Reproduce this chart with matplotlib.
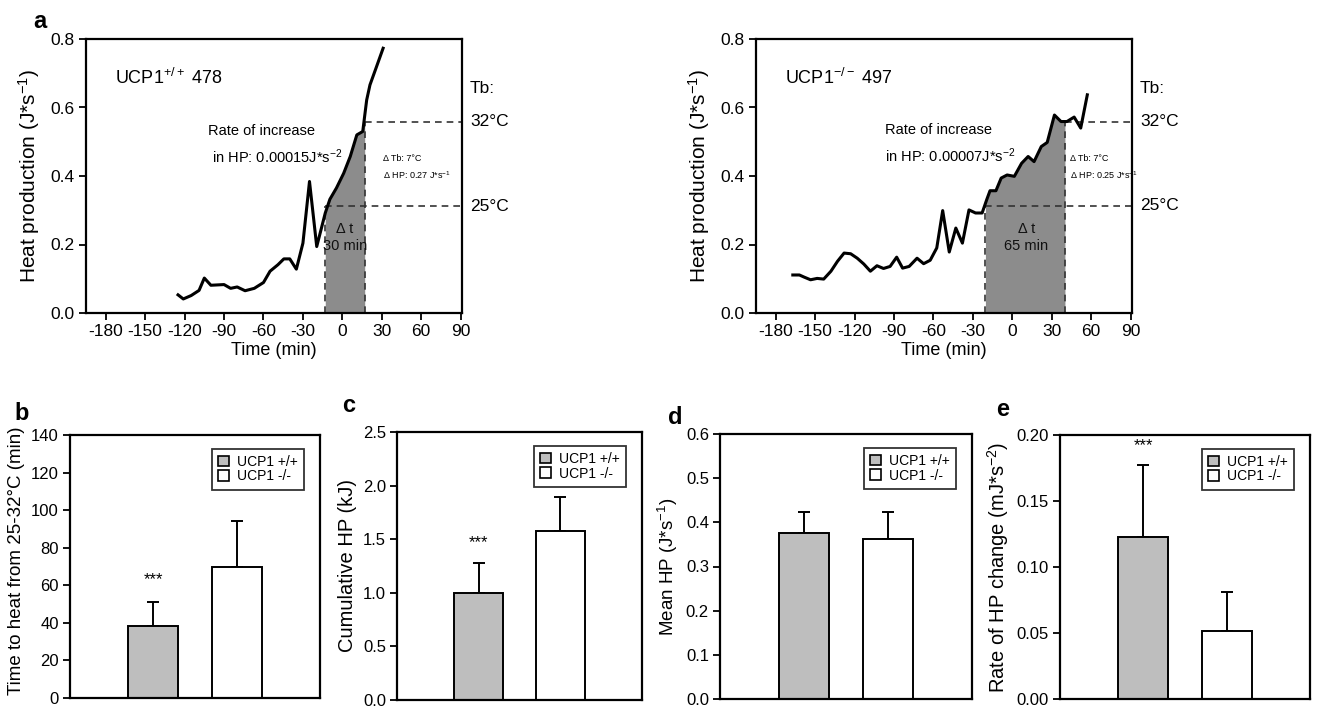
import numpy as np
import matplotlib
matplotlib.use("Agg")
import matplotlib.pyplot as plt
from matplotlib.patches import Patch

plt.rcParams["font.family"] = ["Liberation Sans", "DejaVu Sans"]
plt.rcParams["axes.unicode_minus"] = False
plt.rcParams["mathtext.fontset"] = "custom"
plt.rcParams["mathtext.rm"] = "Liberation Sans"
plt.rcParams["mathtext.it"] = "Liberation Sans:italic"
plt.rcParams["mathtext.bf"] = "Liberation Sans:bold"

# panel a, UCP1+/+ 478
wt_time = [-125, -121, -115, -109, -105, -100, -90, -85, -80, -74, -67, -60, -55, -49,
           -44.5, -40, -35, -30, -25, -19.5, -13, -9.5, -4.5, 1, 6, 11, 15.5, 18.5, 21, 25.5, 31]
wt_hp = [0.053, 0.041, 0.051, 0.066, 0.102, 0.081, 0.083, 0.072, 0.076, 0.065, 0.072, 0.089,
         0.122, 0.141, 0.158, 0.158, 0.128, 0.204, 0.384, 0.194, 0.292, 0.332, 0.365, 0.408,
         0.457, 0.520, 0.530, 0.622, 0.666, 0.714, 0.773]
wt_window = [-13, 17]
wt_tb = [0.311, 0.559]

# panel a, UCP1-/- 497
ko_time = [-167, -162, -158.5, -153.5, -148.5, -143.5, -138, -133, -128, -123, -118, -113,
           -108, -103, -98, -93, -88, -83.5, -78.5, -72.5, -67.5, -62.5, -57.5, -53, -48,
           -43, -38, -33, -28, -23, -19.5, -17, -12.5, -8.5, -4, 1.5, 7, 12, 16.5, 22, 26.5,
           32, 37, 41.5, 47, 52, 57]
ko_hp = [0.111, 0.111, 0.105, 0.097, 0.101, 0.099, 0.122, 0.151, 0.175, 0.173, 0.160, 0.143,
         0.122, 0.138, 0.130, 0.136, 0.163, 0.131, 0.136, 0.160, 0.144, 0.154, 0.190, 0.299,
         0.178, 0.248, 0.204, 0.301, 0.292, 0.292, 0.331, 0.357, 0.357, 0.394, 0.403, 0.399,
         0.437, 0.457, 0.442, 0.486, 0.498, 0.578, 0.559, 0.559, 0.572, 0.540, 0.637]
ko_window = [-20.5, 40]
ko_tb = [0.313, 0.559]

# bar panels b-e: (+/+, -/-)
genotypes = ["UCP1 +/+", "UCP1 -/-"]
heat_time = [38.5, 70.0]
heat_time_err = [12.4, 24.0]
cum_hp = [1.0, 1.58]
cum_hp_err = [0.28, 0.31]
mean_hp = [0.375, 0.362]
mean_hp_err = [0.048, 0.062]
rate_hp = [0.1225, 0.0515]
rate_hp_err = [0.055, 0.0295]

W, H = 1320, 706
fig = plt.figure(figsize=(W / 100, H / 100), dpi=100)


def px_axes(left, top, right, bottom):
    return fig.add_axes([left / W, 1 - bottom / H, (right - left) / W, (bottom - top) / H])


def style(ax, size):
    for s in ax.spines.values():
        s.set_linewidth(1.6)
    ax.tick_params(direction="out", width=1.3, length=5, labelsize=size, pad=3)


def trace_panel(ax, t, hp, window, tb, name, rate, dtb, dhp, dt):
    t = np.asarray(t)
    hp = np.asarray(hp)
    t0, t1 = window
    inside = (t > t0) & (t < t1)
    fx = np.concatenate([[t0], t[inside], [t1]])
    fy = np.interp(fx, t, hp)
    ax.fill_between(fx, 0, fy, color="#8c8c8c", lw=0)
    ax.plot(t, hp, color="black", lw=2.2, zorder=3)
    dash = dict(color="#333333", lw=1.2, ls=(0, (4, 3)))
    ax.plot([t0, t0], [0, tb[0]], **dash)
    ax.plot([t1, t1], [0, tb[1]], **dash)
    ax.plot([t0, 90], [tb[0], tb[0]], **dash)
    ax.plot([t1, 90], [tb[1], tb[1]], **dash)
    ax.set_xlim(-195, 91)
    ax.set_ylim(0, 0.8)
    ax.set_xticks(np.arange(-180, 91, 30))
    ax.set_yticks(np.arange(0, 0.81, 0.2))
    ax.set_yticklabels([f"{v:.1f}" for v in np.arange(0, 0.81, 0.2)])
    style(ax, 12.5)
    ax.set_xlabel("Time (min)", fontsize=13, labelpad=2)
    ax.set_ylabel("Heat production (J*s$^{-1}$)", fontsize=15, labelpad=6)
    ax.text(-173, 0.685, name, fontsize=13, va="center")
    ax.text(rate[0], rate[1], rate[2], fontsize=10.5, va="center", linespacing=1.6)
    ax.text(dtb[0], 0.425, f"Δ Tb: 7°C\nΔ HP: {dtb[1]} J*s$^{{-1}}$", fontsize=6.5,
            va="center", linespacing=1.7)
    ax.text(dhp, 0.22, f"Δ t\n{dt} min", fontsize=10.5, ha="center", va="center",
            color="#111111", linespacing=1.3)
    ax.text(97, 0.656, "Tb:", fontsize=12.5, va="center", clip_on=False)
    ax.text(97, tb[1], "32°C", fontsize=12.5, va="center", clip_on=False)
    ax.text(97, tb[0], "25°C", fontsize=12.5, va="center", clip_on=False)


ax_wt = px_axes(86, 39, 462, 313)
trace_panel(ax_wt, wt_time, wt_hp, wt_window, wt_tb, "UCP1$^{+/+}$ 478",
            (-102, 0.49, "Rate of increase\n in HP: 0.00015J*s$^{-2}$"),
            (31, "0.27"), 2, 30)
ax_ko = px_axes(756, 39, 1132, 313)
trace_panel(ax_ko, ko_time, ko_hp, ko_window, ko_tb, "UCP1$^{-/-}$ 497",
            (-97, 0.493, "Rate of increase\nin HP: 0.00007J*s$^{-2}$"),
            (44, "0.25"), 10.5, 65)
fig.text(33 / W, 1 - 22 / H, "a", fontsize=17, fontweight="bold", va="center")

bar_colors = ["#bebebe", "white"]


def bar_panel(ax, vals, errs, ylim, step, fmt, ylabel, stars=None, lsize=14.5, ly=0.5):
    ax.bar([1, 2], vals, width=0.6, color=bar_colors, edgecolor="black", lw=1.4, zorder=2)
    ax.errorbar([1, 2], vals, yerr=[[0, 0], errs], fmt="none", ecolor="black",
                elinewidth=1.4, capsize=4, capthick=1.4, zorder=1)
    ax.set_xlim(0, 3)
    ax.set_xticks([])
    ax.set_ylim(*ylim)
    ticks = np.arange(ylim[0], ylim[1] + step / 2, step)
    ax.set_yticks(ticks)
    ax.set_yticklabels([fmt.format(v) for v in ticks])
    style(ax, 12)
    ax.set_ylabel(ylabel, fontsize=lsize, labelpad=4)
    ax.yaxis.label.set_y(ly)
    if stars is not None:
        ax.text(1, stars, "***", ha="center", va="center", fontsize=12)
    handles = [Patch(facecolor=c, edgecolor="black", lw=1.2) for c in bar_colors]
    leg = ax.legend(handles, genotypes, loc="upper right", fontsize=10, frameon=True,
                    fancybox=False, edgecolor="black", handlelength=0.8, handleheight=0.8,
                    handletextpad=0.6, borderpad=0.45, labelspacing=0.05,
                    bbox_to_anchor=(0.965, 0.975))
    leg.get_frame().set_linewidth(1.3)


ax_b = px_axes(70, 435, 320, 698)
bar_panel(ax_b, heat_time, heat_time_err, (0, 140), 20, "{:.0f}",
          "Time to heat from 25-32°C (min)", stars=63, lsize=13.5, ly=0.52)
ax_c = px_axes(397, 432, 642, 700)
bar_panel(ax_c, cum_hp, cum_hp_err, (0, 2.5), 0.5, "{:.1f}", "Cumulative HP (kJ)", stars=1.47)
ax_d = px_axes(720, 434, 972, 699)
bar_panel(ax_d, mean_hp, mean_hp_err, (0, 0.6), 0.1, "{:.1f}", "Mean HP (J*s$^{-1}$)",
          lsize=13.5)
ax_e = px_axes(1060, 435, 1310, 699)
bar_panel(ax_e, rate_hp, rate_hp_err, (0, 0.2), 0.05, "{:.2f}",
          "Rate of HP change (mJ*s$^{-2}$)", stars=0.192)

for lab, x, y in [("b", 14, 414), ("c", 342, 405), ("d", 668, 418), ("e", 996, 410)]:
    fig.text(x / W, 1 - y / H, lab, fontsize=17, fontweight="bold", va="center")

fig.savefig("out.png", dpi=100)
